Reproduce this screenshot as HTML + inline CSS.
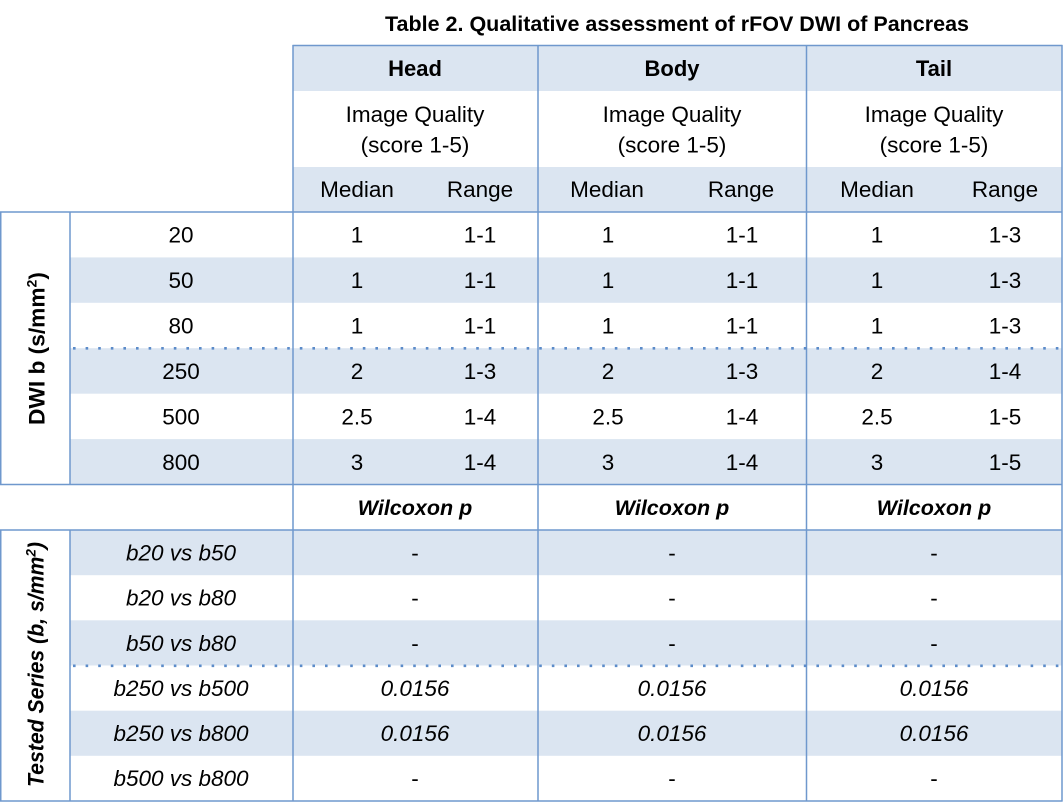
<!DOCTYPE html>
<html>
<head>
<meta charset="utf-8">
<style>
  html, body { margin: 0; padding: 0; background: #ffffff; }
  body { width: 1063px; height: 810px; overflow: hidden; }
  svg { display: block; }
  text { font-family: "Liberation Sans", Arial, sans-serif; fill: #000; }
  .r { font-size: 22.5px; }
  .b { font-size: 22px; font-weight: bold; }
  .i { font-size: 22.5px; font-style: italic; }
  .bi { font-size: 21.5px; font-weight: bold; font-style: italic; }
</style>
</head>
<body>
<svg width="1063" height="810" viewBox="0 0 1063 810" xmlns="http://www.w3.org/2000/svg">
  <rect x="0" y="0" width="1063" height="810" fill="#ffffff"/>

  <!-- Title -->
  <text x="677" y="31" text-anchor="middle" font-size="21.5" font-weight="bold" textLength="584" lengthAdjust="spacingAndGlyphs">Table 2. Qualitative assessment of rFOV DWI of Pancreas</text>

  <!-- Fills -->
  <g fill="#dbe5f1">
    <rect x="293" y="45" width="769" height="46"/>
    <rect x="293" y="167" width="769" height="45"/>
    <rect x="70" y="257.4" width="992" height="45.4"/>
    <rect x="70" y="348.2" width="992" height="45.5"/>
    <rect x="70" y="439.1" width="992" height="45.4"/>
    <rect x="70" y="530" width="992" height="45.2"/>
    <rect x="70" y="620.3" width="992" height="45.2"/>
    <rect x="70" y="710.7" width="992" height="45.1"/>
  </g>

  <!-- Borders -->
  <g stroke="#6f98cd" stroke-width="1.5" fill="none">
    <line x1="292.5" y1="45.5" x2="1062.5" y2="45.5"/>
    <line x1="0" y1="212" x2="1062.5" y2="212"/>
    <line x1="0" y1="484.5" x2="1062.5" y2="484.5"/>
    <line x1="0" y1="530" x2="1062.5" y2="530"/>
    <line x1="0" y1="801" x2="1062.5" y2="801"/>

    <line x1="293" y1="45" x2="293" y2="801.5"/>
    <line x1="538" y1="45" x2="538" y2="801.5"/>
    <line x1="806.5" y1="45" x2="806.5" y2="801.5"/>
    <line x1="1062" y1="45" x2="1062" y2="801.5"/>

    <line x1="0.75" y1="211.5" x2="0.75" y2="485"/>
    <line x1="70" y1="211.5" x2="70" y2="485"/>
    <line x1="0.75" y1="529.5" x2="0.75" y2="801.5"/>
    <line x1="70" y1="529.5" x2="70" y2="801.5"/>
  </g>

  <!-- Dotted separators -->
  <g stroke="#5b8bc9" stroke-width="2.6" fill="none" stroke-dasharray="2.6 10">
    <line x1="73" y1="348.3" x2="1062" y2="348.3"/>
    <line x1="73" y1="665.8" x2="1062" y2="665.8"/>
  </g>

  <!-- Header texts -->
  <g text-anchor="middle">
    <text class="b" x="415" y="76">Head</text>
    <text class="b" x="672" y="76">Body</text>
    <text class="b" x="934" y="76">Tail</text>

    <text class="r" x="415" y="122">Image Quality</text>
    <text class="r" x="415" y="152.5">(score 1-5)</text>
    <text class="r" x="672" y="122">Image Quality</text>
    <text class="r" x="672" y="152.5">(score 1-5)</text>
    <text class="r" x="934" y="122">Image Quality</text>
    <text class="r" x="934" y="152.5">(score 1-5)</text>

    <text class="r" x="357" y="197">Median</text>
    <text class="r" x="480" y="197">Range</text>
    <text class="r" x="607" y="197">Median</text>
    <text class="r" x="741" y="197">Range</text>
    <text class="r" x="877" y="197">Median</text>
    <text class="r" x="1005" y="197">Range</text>
  </g>

  <!-- DWI data rows -->
  <g text-anchor="middle" class="r">
    <text class="r" x="181" y="242.5">20</text>
    <text class="r" x="357" y="242.5">1</text>
    <text class="r" x="480" y="242.5">1-1</text>
    <text class="r" x="608" y="242.5">1</text>
    <text class="r" x="742" y="242.5">1-1</text>
    <text class="r" x="877" y="242.5">1</text>
    <text class="r" x="1005" y="242.5">1-3</text>

    <text class="r" x="181" y="288">50</text>
    <text class="r" x="357" y="288">1</text>
    <text class="r" x="480" y="288">1-1</text>
    <text class="r" x="608" y="288">1</text>
    <text class="r" x="742" y="288">1-1</text>
    <text class="r" x="877" y="288">1</text>
    <text class="r" x="1005" y="288">1-3</text>

    <text class="r" x="181" y="333.5">80</text>
    <text class="r" x="357" y="333.5">1</text>
    <text class="r" x="480" y="333.5">1-1</text>
    <text class="r" x="608" y="333.5">1</text>
    <text class="r" x="742" y="333.5">1-1</text>
    <text class="r" x="877" y="333.5">1</text>
    <text class="r" x="1005" y="333.5">1-3</text>

    <text class="r" x="181" y="379">250</text>
    <text class="r" x="357" y="379">2</text>
    <text class="r" x="480" y="379">1-3</text>
    <text class="r" x="608" y="379">2</text>
    <text class="r" x="742" y="379">1-3</text>
    <text class="r" x="877" y="379">2</text>
    <text class="r" x="1005" y="379">1-4</text>

    <text class="r" x="181" y="424.5">500</text>
    <text class="r" x="357" y="424.5">2.5</text>
    <text class="r" x="480" y="424.5">1-4</text>
    <text class="r" x="608" y="424.5">2.5</text>
    <text class="r" x="742" y="424.5">1-4</text>
    <text class="r" x="877" y="424.5">2.5</text>
    <text class="r" x="1005" y="424.5">1-5</text>

    <text class="r" x="181" y="470">800</text>
    <text class="r" x="357" y="470">3</text>
    <text class="r" x="480" y="470">1-4</text>
    <text class="r" x="608" y="470">3</text>
    <text class="r" x="742" y="470">1-4</text>
    <text class="r" x="877" y="470">3</text>
    <text class="r" x="1005" y="470">1-5</text>
  </g>

  <!-- Wilcoxon header -->
  <g text-anchor="middle">
    <text class="bi" x="415" y="515">Wilcoxon p</text>
    <text class="bi" x="672" y="515">Wilcoxon p</text>
    <text class="bi" x="934" y="515">Wilcoxon p</text>
  </g>

  <!-- Tested series rows -->
  <g text-anchor="middle">
    <text class="i" x="181" y="560.5">b20 vs b50</text>
    <text class="r" x="415" y="560.5">-</text>
    <text class="r" x="672" y="560.5">-</text>
    <text class="r" x="934" y="560.5">-</text>

    <text class="i" x="181" y="605.5">b20 vs b80</text>
    <text class="r" x="415" y="605.5">-</text>
    <text class="r" x="672" y="605.5">-</text>
    <text class="r" x="934" y="605.5">-</text>

    <text class="i" x="181" y="651">b50 vs b80</text>
    <text class="r" x="415" y="651">-</text>
    <text class="r" x="672" y="651">-</text>
    <text class="r" x="934" y="651">-</text>

    <text class="i" x="181" y="696">b250 vs b500</text>
    <text class="i" x="415" y="696">0.0156</text>
    <text class="i" x="672" y="696">0.0156</text>
    <text class="i" x="934" y="696">0.0156</text>

    <text class="i" x="181" y="741">b250 vs b800</text>
    <text class="i" x="415" y="741">0.0156</text>
    <text class="i" x="672" y="741">0.0156</text>
    <text class="i" x="934" y="741">0.0156</text>

    <text class="i" x="181" y="786">b500 vs b800</text>
    <text class="r" x="415" y="786">-</text>
    <text class="r" x="672" y="786">-</text>
    <text class="r" x="934" y="786">-</text>
  </g>

  <!-- Rotated labels -->
  <text transform="translate(44.5,348.5) rotate(-90)" text-anchor="middle" font-size="22.5" font-weight="bold" textLength="153" lengthAdjust="spacingAndGlyphs">DWI b (s/mm<tspan font-size="14" dy="-8">2</tspan><tspan dy="8">)</tspan></text>

  <text transform="translate(43.5,664.5) rotate(-90)" text-anchor="middle" font-size="22" font-weight="bold" font-style="italic" textLength="245" lengthAdjust="spacingAndGlyphs">Tested Series (b, s/mm<tspan font-size="14" dy="-8">2</tspan><tspan dy="8">)</tspan></text>
</svg>
</body>
</html>
